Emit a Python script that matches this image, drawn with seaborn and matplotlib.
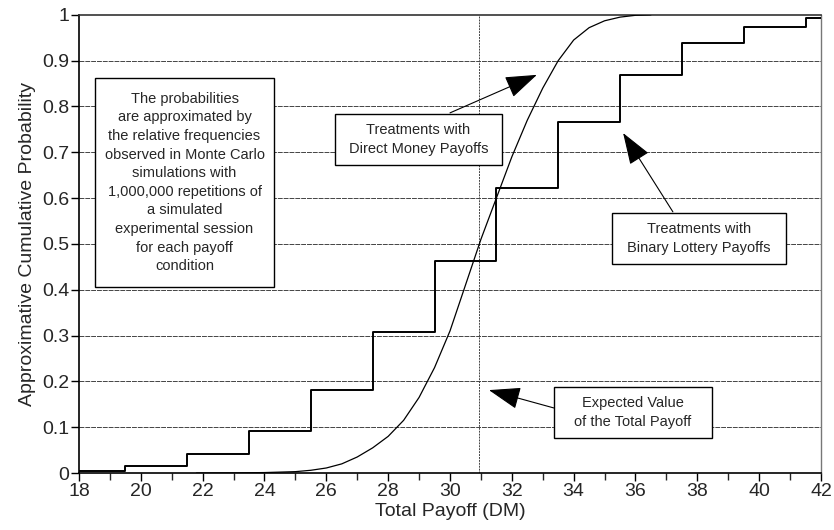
import matplotlib
matplotlib.use('Agg')
import matplotlib.pyplot as plt
import seaborn as sns
import pandas as pd
from matplotlib.patches import Rectangle
from matplotlib.ticker import MultipleLocator

# binary lottery payoffs: step edges and cumulative levels
step_x = [18, 19.5, 21.5, 23.5, 25.5, 27.5, 29.5, 31.5, 33.5, 35.5, 37.5, 39.5, 41.5]
step_y = [0.005, 0.015, 0.041, 0.092, 0.181, 0.307, 0.463, 0.623, 0.766, 0.868, 0.938, 0.974, 0.993]

# direct money payoffs: smooth cdf
curve_x = [21.8, 23, 24, 25, 25.5, 26, 26.5, 27, 27.5, 28, 28.5, 29, 29.5, 30, 30.5,
           31, 31.5, 32, 32.5, 33, 33.5, 34, 34.5, 35, 35.5, 36, 36.5]
curve_y = [0.0, 0.0003, 0.001, 0.003, 0.006, 0.011, 0.02, 0.035, 0.055, 0.08, 0.115, 0.165, 0.23,
           0.31, 0.41, 0.51, 0.6, 0.69, 0.77, 0.84, 0.9, 0.945, 0.972, 0.987, 0.995, 0.999, 1.0]

expected_value = 30.94

note_text = ('The probabilities\nare approximated by\nthe relative frequencies\n'
             'observed in Monte Carlo\nsimulations with\n1,000,000 repetitions of\n'
             'a simulated\nexperimental session\nfor each payoff\ncondition')
direct_label = 'Treatments with\nDirect Money Payoffs'
binary_label = 'Treatments with\nBinary Lottery Payoffs'
ev_label = 'Expected Value\nof the Total Payoff'

sns.set_style('white')
plt.rcParams['font.family'] = ['Liberation Sans', 'DejaVu Sans']

fig = plt.figure(figsize=(8.34, 5.3), dpi=100)
ax = fig.add_axes([0.0947, 0.1075, 0.8897, 0.8645])

df_step = pd.DataFrame({'x': step_x + [42], 'y': step_y + [step_y[-1]]})
df_curve = pd.DataFrame({'x': curve_x, 'y': curve_y})

for yv in [0.1, 0.2, 0.3, 0.4, 0.5, 0.6, 0.7, 0.8, 0.9]:
    ax.axhline(yv, color='#444444', lw=0.7, ls=(0, (5, 1)), zorder=1)
ax.axvline(expected_value, color='#444444', lw=0.7, ls=(0, (2, 1)), zorder=1)

sns.lineplot(data=df_step, x='x', y='y', drawstyle='steps-post', color='black',
             lw=1.4, ax=ax, sort=False, estimator=None, zorder=3)
sns.lineplot(data=df_curve, x='x', y='y', color='black', lw=0.9, ax=ax,
             sort=False, estimator=None, zorder=3)

ax.set_xlim(18, 42)
ax.set_ylim(0, 1)
ax.xaxis.set_major_locator(MultipleLocator(2))
ax.xaxis.set_minor_locator(MultipleLocator(1))
ax.set_yticks([0, 0.1, 0.2, 0.3, 0.4, 0.5, 0.6, 0.7, 0.8, 0.9, 1])
ax.set_yticklabels(['0', '0.1', '0.2', '0.3', '0.4', '0.5', '0.6', '0.7', '0.8', '0.9', '1'])
ax.tick_params(axis='both', which='major', direction='out', length=6, width=1,
               labelsize=14, color='black', bottom=True, left=True, pad=1)
ax.tick_params(axis='x', which='minor', direction='out', length=5, width=1, bottom=True)

for s in ['left', 'bottom']:
    ax.spines[s].set_color('black')
    ax.spines[s].set_linewidth(1.2)
ax.spines['top'].set_color('#333333')
ax.spines['top'].set_linewidth(1.2)
ax.spines['right'].set_color('#777777')
ax.spines['right'].set_linewidth(1.0)

ax.set_xlabel('Total Payoff (DM)', fontsize=14, labelpad=2)
ax.set_ylabel('Approximative Cumulative Probability', fontsize=14, labelpad=4)

# text boxes (left, bottom, right, top in data units)
boxes = [
    (note_text, (18.52, 0.406, 24.31, 0.862)),
    (direct_label, (26.28, 0.672, 31.68, 0.784)),
    (binary_label, (35.23, 0.456, 40.87, 0.568)),
    (ev_label, (33.36, 0.077, 38.46, 0.188)),
]
for label, (x0, y0, x1, y1) in boxes:
    ax.add_patch(Rectangle((x0, y0), x1 - x0, y1 - y0, fc='white', ec='black',
                           lw=1.0, zorder=5))
    ax.text((x0 + x1) / 2, (y0 + y1) / 2, label, ha='center', va='center',
            fontsize=10.5, linespacing=1.42, zorder=6)

arrow = dict(arrowstyle='-|>,head_length=2.0,head_width=0.7', color='black', lw=0.8,
             shrinkA=0, shrinkB=0)
# (tip, tail)
arrows = [((32.81, 0.869), (30.0, 0.786)),
          ((35.60, 0.742), (37.21, 0.570)),
          ((31.26, 0.181), (33.36, 0.142))]
for tip, tail in arrows:
    ax.annotate('', xy=tip, xytext=tail, arrowprops=arrow, zorder=4)

fig.savefig('out.png', dpi=100)
